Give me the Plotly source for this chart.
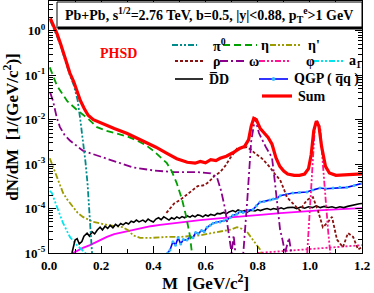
import plotly.graph_objects as go

# ---------------- data ----------------
sum_x = [0.005, 0.02, 0.031, 0.045, 0.054, 0.065, 0.08, 0.095, 0.11, 0.12, 0.135, 0.15, 0.17, 0.2,
         0.222, 0.25, 0.3, 0.34, 0.376, 0.41, 0.452, 0.49, 0.53, 0.56, 0.58, 0.60, 0.62, 0.64, 0.656,
         0.68, 0.705, 0.73, 0.75, 0.765, 0.775, 0.785, 0.795, 0.81, 0.825, 0.84, 0.855, 0.87, 0.885,
         0.9, 0.915, 0.94, 0.96, 0.98, 0.995, 1.005, 1.015, 1.025, 1.035, 1.045, 1.06, 1.075, 1.1,
         1.15, 1.2]
sum_y = [1.9, 1.26, 0.85, 0.5, 0.35, 0.2, 0.112, 0.071, 0.04, 0.027, 0.0178, 0.0126, 0.01, 0.0083,
         0.0074, 0.0063, 0.0049, 0.0038, 0.003, 0.0024, 0.00174, 0.00132, 0.0011, 0.00105, 0.00115,
         0.00107, 0.00126, 0.0012, 0.00135, 0.0015, 0.0018, 0.00224, 0.0025, 0.0035, 0.0071, 0.0107,
         0.01, 0.0063, 0.005, 0.004, 0.0028, 0.0014, 0.00089, 0.0007, 0.0006, 0.00056, 0.00056, 0.0006,
         0.00079, 0.0016, 0.0056, 0.0093, 0.0071, 0.0025, 0.00089, 0.00063, 0.00056, 0.00058, 0.0006]

pi0_x = [0.005, 0.02, 0.031, 0.045, 0.054, 0.065, 0.08, 0.095, 0.11, 0.12, 0.13, 0.14, 0.148, 0.155,
         0.16, 0.166]
pi0_y = [1.7, 1.1, 0.75, 0.45, 0.3, 0.18, 0.1, 0.06, 0.027, 0.01, 0.0034, 0.0011, 0.00035, 7e-5,
         2.5e-5, 8e-6]

eta_x = [0.003, 0.03, 0.07, 0.11, 0.15, 0.184, 0.22, 0.261, 0.3, 0.337, 0.37, 0.40, 0.43, 0.452,
         0.47, 0.49, 0.51, 0.525, 0.54, 0.55]
eta_y = [0.15, 0.059, 0.026, 0.016, 0.0105, 0.0068, 0.0056, 0.0049, 0.0042, 0.0034, 0.0027, 0.002,
         0.0014, 0.00105, 7e-4, 3.7e-4, 1.6e-4, 7e-5, 2.5e-5, 8e-6]

etap_x = [0.003, 0.015, 0.031, 0.054, 0.07, 0.092, 0.11, 0.13, 0.169, 0.222, 0.284, 0.305, 0.322,
          0.349, 0.399, 0.452, 0.502, 0.579, 0.656, 0.70, 0.721, 0.74, 0.759, 0.782, 0.809, 0.82]
etap_y = [1.35e-3, 9e-4, 5e-4, 2.24e-4, 1.6e-4, 1.07e-4, 8e-5, 6.5e-5, 5e-5, 4.3e-5, 3.8e-5, 3.2e-5,
          2.5e-5, 2.2e-5, 2.2e-5, 2.3e-5, 2.3e-5, 2.5e-5, 3e-5, 3.4e-5, 3.8e-5, 3.5e-5, 3e-5, 2e-5,
          1.2e-5, 8e-6]

rho_x = [0.45, 0.464, 0.48, 0.502, 0.52, 0.535, 0.552, 0.57, 0.59, 0.606, 0.62, 0.635, 0.656, 0.675,
         0.694, 0.71, 0.721, 0.74, 0.759, 0.775, 0.79, 0.816, 0.847, 0.866, 0.886, 0.9, 0.912, 0.935,
         0.962, 0.975, 0.989, 1.0, 1.012, 1.031, 1.05, 1.07, 1.085, 1.104, 1.127, 1.146, 1.166, 1.185,
         1.2]
rho_y = [8e-5, 1.02e-4, 1.3e-4, 1.55e-4, 1.9e-4, 2.2e-4, 2.6e-4, 3.2e-4, 3.3e-4, 3.7e-4, 4.4e-4,
         5.5e-4, 6.6e-4, 9e-4, 1.35e-3, 1.8e-3, 2.24e-3, 2.3e-3, 2.4e-3, 2.1e-3, 1.74e-3, 1.35e-3,
         8.5e-4, 6e-4, 4.4e-4, 2.8e-4, 1.8e-4, 1.3e-4, 9e-5, 1.2e-4, 1.55e-4, 1.7e-4, 1.8e-4, 9e-5,
         3.8e-5, 5e-5, 6.5e-5, 2e-5, 1.35e-5, 2.8e-5, 2.3e-5, 1.2e-5, 1.35e-5]

omega_x = [0.005, 0.015, 0.03, 0.042, 0.06, 0.08, 0.13, 0.22, 0.32, 0.40, 0.48, 0.57, 0.62, 0.645,
           0.66, 0.675, 0.69, 0.70, 0.708, 0.716, 0.73, 0.745, 0.76, 0.775, 0.79, 0.805, 0.83, 0.855,
           0.865, 0.875, 0.886, 0.895, 0.905, 0.92, 0.935]
omega_y = [0.04, 0.027, 0.011, 6.8e-3, 4.5e-3, 3.4e-3, 2.0e-3, 1.35e-3, 8.5e-4, 7.2e-4, 6.6e-4,
           6.6e-4, 6.2e-4, 4.8e-4, 2.5e-4, 1e-4, 2.8e-5, 1.0e-5, 2.5e-5, 8e-6, 5e-6, 1e-5, 1.5e-4,
           3.2e-3, 0.011, 5e-3, 2.5e-3, 1.4e-3, 4.5e-4, 1.5e-4, 3.3e-5, 2e-5, 1e-5, 2.2e-5, 6e-6]

phi_x = [0.99, 1.0, 1.01, 1.02, 1.03, 1.04, 1.05, 1.06, 1.07, 1.08]
phi_y = [1e-5, 1e-4, 1e-3, 7.9e-3, 8.9e-3, 6.3e-3, 1e-3, 1.6e-4, 3.2e-5, 8e-6]

phid_x = [0.8, 0.9, 1.0, 1.1, 1.2]
phid_y = [1.0e-5, 1.1e-5, 1.22e-5, 1.35e-5, 1.5e-5]

a1_x = [0.003, 0.011, 0.031, 0.054, 0.08, 0.107, 0.125, 0.14, 0.15]
a1_y = [2.5e-4, 2.24e-4, 1.07e-4, 4.7e-5, 2.3e-5, 1.5e-5, 1.2e-5, 1e-5, 8e-6]

dd_x = [0.088, 0.095, 0.100, 0.108, 0.116, 0.126, 0.134, 0.146, 0.155, 0.165, 0.175, 0.185, 0.196,
        0.205, 0.215, 0.225, 0.235, 0.245, 0.255, 0.265, 0.275, 0.284, 0.295, 0.305, 0.315, 0.325,
        0.335, 0.345, 0.36, 0.37, 0.38, 0.39, 0.40, 0.41, 0.42, 0.43, 0.44, 0.45, 0.46, 0.47, 0.48,
        0.49, 0.50, 0.51, 0.52, 0.53, 0.541, 0.55, 0.56, 0.57, 0.58, 0.59, 0.60, 0.61, 0.62, 0.635,
        0.645, 0.656, 0.67, 0.68, 0.69, 0.705, 0.715, 0.725, 0.74, 0.75, 0.76, 0.775, 0.79, 0.80,
        0.81, 0.825, 0.836, 0.85, 0.86, 0.875, 0.89, 0.90, 0.915, 0.935, 0.95, 0.965, 0.98, 0.995,
        1.01, 1.025, 1.04, 1.055, 1.07, 1.085, 1.1, 1.115, 1.13, 1.145, 1.16, 1.175, 1.19, 1.2]
dd_y = [1e-5, 1.6e-5, 1.95e-5, 2.1e-5, 1.6e-5, 1.8e-5, 2.4e-5, 2.8e-5, 2.4e-5, 3.0e-5, 2.7e-5,
        3.3e-5, 3.8e-5, 3.3e-5, 4.0e-5, 3.6e-5, 4.2e-5, 3.7e-5, 4.4e-5, 4.0e-5, 4.6e-5, 4.3e-5,
        4.8e-5, 4.5e-5, 5.2e-5, 4.9e-5, 5.5e-5, 5.0e-5, 5.5e-5, 5.0e-5, 5.8e-5, 5.3e-5, 5.0e-5,
        5.8e-5, 6.2e-5, 5.6e-5, 6.5e-5, 6.0e-5, 5.5e-5, 6.2e-5, 5.8e-5, 6.5e-5, 6.0e-5, 6.6e-5,
        6.2e-5, 6.8e-5, 6.4e-5, 7.0e-5, 6.5e-5, 7.2e-5, 7.0e-5, 6.5e-5, 7.2e-5, 6.8e-5, 7.4e-5,
        7.0e-5, 7.8e-5, 7.6e-5, 8.2e-5, 7.6e-5, 8.4e-5, 9.0e-5, 8.4e-5, 9.3e-5, 8.6e-5, 9.0e-5,
        8.3e-5, 9.2e-5, 8.8e-5, 9.5e-5, 9.0e-5, 9.6e-5, 1.0e-4, 9.4e-5, 1.0e-4, 9.6e-5, 1.04e-4,
        9.8e-5, 1.05e-4, 1.07e-4, 1.0e-4, 1.08e-4, 1.02e-4, 1.1e-4, 1.05e-4, 1.15e-4, 1.05e-4,
        1.12e-4, 1.06e-4, 1.1e-4, 1.03e-4, 1.1e-4, 1.05e-4, 1.12e-4, 1.18e-4, 1.2e-4, 1.28e-4, 1.3e-4]

smooth_x = [0.092, 0.11, 0.13, 0.157, 0.19, 0.222, 0.25, 0.284, 0.32, 0.349, 0.39, 0.426, 0.5,
            0.579, 0.65, 0.732, 0.81, 0.886, 0.95, 1.05, 1.12, 1.2]
smooth_y = [1e-5, 1.15e-5, 1.3e-5, 1.5e-5, 1.9e-5, 2.3e-5, 2.65e-5, 2.95e-5, 3.3e-5, 3.6e-5, 4.0e-5,
            4.3e-5, 4.9e-5, 5.5e-5, 6.0e-5, 6.5e-5, 7.2e-5, 7.9e-5, 8.5e-5, 9.2e-5, 9.7e-5, 1.02e-4]

qgp_x = [0.455, 0.464, 0.475, 0.485, 0.495, 0.505, 0.515, 0.529, 0.54, 0.552, 0.562, 0.572, 0.585,
         0.595, 0.606, 0.618, 0.629, 0.642, 0.656, 0.67, 0.682, 0.695, 0.705, 0.72, 0.732, 0.744,
         0.76, 0.782, 0.795, 0.809, 0.825, 0.847, 0.86, 0.874, 0.886, 0.91, 0.935, 0.96, 0.989, 1.01,
         1.039, 1.06, 1.089, 1.115, 1.142, 1.17, 1.2]
qgp_y = [1e-5, 1.17e-5, 1.8e-5, 1.5e-5, 2.2e-5, 1.6e-5, 2.0e-5, 1.95e-5, 2.3e-5, 2.2e-5, 2.9e-5,
         2.7e-5, 3.2e-5, 3.0e-5, 3.8e-5, 4.2e-5, 4.7e-5, 4.9e-5, 5.0e-5, 5.3e-5, 5.5e-5, 6.3e-5,
         7.1e-5, 7.4e-5, 8.5e-5, 8.2e-5, 9.0e-5, 9.5e-5, 1.15e-4, 1.4e-4, 1.45e-4, 1.55e-4, 1.65e-4,
         1.7e-4, 1.95e-4, 2.1e-4, 2.24e-4, 2.3e-4, 2.35e-4, 2.6e-4, 2.9e-4, 2.8e-4, 2.9e-4, 3.0e-4,
         3.0e-4, 3.3e-4, 3.7e-4]

ytick_vals = [1e-5, 1e-4, 1e-3, 1e-2, 1e-1, 1e0]
ytick_text = ["10<sup>-5</sup>", "10<sup>-4</sup>", "10<sup>-3</sup>", "10<sup>-2</sup>",
              "10<sup>-1</sup>", "10<sup>0</sup>"]
xtick_vals = [0.0, 0.2, 0.4, 0.6, 0.8, 1.0, 1.2]
xtick_text = ["0.0", "0.2", "0.4", "0.6", "0.8", "1.0", "1.2"]

# ---------------- styles ----------------
C_PI0 = "#008b8b"
C_ETA = "#00a000"
C_ETAP = "#9c9c00"
C_RHO = "#8b1010"
C_OMEGA = "#8b008b"
C_PHI = "#ff1493"
C_A1 = "#00e5ee"
C_DD = "#000000"
C_QGP = "#0000ff"
C_QGPM = "#33bbff"
C_SUM = "#ff0000"
C_MAG = "#ff00ff"

D_DDOT = "6px,2px,2px,2px,2px,2px"
D_DASH = "7px,4px"
D_SHORT = "3px,2px"
D_DDASH = "8px,3px,2px,3px"

FONT = "Liberation Serif, Times New Roman, serif"

fig = go.Figure()

def add(x, y, color, dash="solid", width=1.6, **kw):
    fig.add_trace(go.Scatter(x=x, y=y, mode=kw.pop("mode", "lines"),
                             line=dict(color=color, dash=dash, width=width),
                             showlegend=False, hoverinfo="skip", **kw))

add(smooth_x, smooth_y, C_MAG, width=1.8)
add(phid_x, phid_y, C_PHI, dash="2px,2px", width=1.8)
add(a1_x, a1_y, C_A1, D_DDOT, 1.8)
add(etap_x, etap_y, C_ETAP, D_DDOT, 1.8)
add(dd_x, dd_y, C_DD, "solid", 1.6)
add(qgp_x, qgp_y, C_QGP, "solid", 1.6, mode="lines+markers",
    marker=dict(color=C_QGPM, size=3))
add(rho_x, rho_y, C_RHO, D_SHORT, 1.8)
add(omega_x, omega_y, C_OMEGA, D_DDASH, 1.8)
add(phi_x, phi_y, C_PHI, D_DDOT, 1.8)
add(eta_x, eta_y, C_ETA, D_DASH, 1.8)
add(pi0_x, pi0_y, C_PI0, D_DDOT, 1.8)
add(sum_x, sum_y, C_SUM, "solid", 3.2)

# ---------------- layout ----------------
L, R, T, B = 49, 12, 1, 40
W, H = 374, 293
PW, PH = W - L - R, H - T - B

def px(xp):
    return (xp - L) / PW

def py(yp):
    return (T + PH - yp) / PH

axis_common = dict(showline=True, linecolor="black", linewidth=1.2, mirror="allticks",
                   ticks="inside", tickcolor="black", showgrid=False, zeroline=False,
                   automargin=False,
                   tickfont=dict(family=FONT, size=13, color="black", weight="bold"))

fig.update_layout(
    width=W, height=H, margin=dict(l=L, r=R, t=T, b=B, autoexpand=False),
    paper_bgcolor="white", plot_bgcolor="white",
    xaxis=dict(range=[0, 1.2], tickvals=xtick_vals, ticktext=xtick_text, ticklen=7,
               minor=dict(ticks="inside", dtick=0.1, ticklen=4, tickcolor="black"),
               title=dict(text="<b>M  [GeV/c<sup>2</sup>]</b>",
                          font=dict(family=FONT, size=17, color="black"), standoff=2),
               **axis_common),
    yaxis=dict(type="log", range=[-5, 0.67], tickvals=ytick_vals, ticktext=ytick_text, ticklen=7,
               minor=dict(ticks="inside", dtick="D1", ticklen=4, tickcolor="black"),
               title=dict(text="<b>dN/dM  [1/(GeV/c<sup>2</sup>)]</b>",
                          font=dict(family=FONT, size=17, color="black"), standoff=2),
               **axis_common),
)

shapes = []
ann = []

# header box
shapes.append(dict(type="rect", xref="paper", yref="paper", x0=px(57), x1=px(362), y0=py(28), y1=py(2),
                   line=dict(color="black", width=1), fillcolor="white", layer="above"))
shapes.append(dict(type="line", xref="paper", yref="paper", x0=px(58), x1=px(362), y0=py(28), y1=py(28),
                   line=dict(color="black", width=3), layer="above"))
ann.append(dict(xref="paper", yref="paper", x=px(209), y=py(15), xanchor="center", yanchor="middle",
                showarrow=False,
                text="<b>Pb+Pb, s<sup>1/2</sup>=2.76 TeV, b=0.5, |y|<0.88, p<sub>T</sub><sup>e</sup>>1 GeV</b>",
                font=dict(family=FONT, size=14, color="black")))

ann.append(dict(xref="paper", yref="paper", x=px(118), y=py(53), xanchor="center", yanchor="middle",
                showarrow=False, text="<b>PHSD</b>", font=dict(family=FONT, size=14, color=C_SUM)))

legend_items = [
    # (x0, x1, y, color, dash, width, label, label_x)
    (172, 197, 45, C_PI0, D_DDOT, 1.8, "π<sup>0</sup>", 211),
    (223, 257, 45, C_ETA, D_DASH, 1.8, "η", 259),
    (270, 300, 45, C_ETAP, D_DDOT, 1.8, "η'", 306),
    (175, 203, 61, C_RHO, D_SHORT, 1.8, "ρ", 211),
    (220, 246, 61, C_OMEGA, D_DDASH, 1.8, "ω", 247),
    (259, 290, 61, C_PHI, D_DDOT, 1.8, "φ", 304),
    (313, 343, 61, C_A1, D_DDOT, 1.8, "a<sub>1</sub>", 347),
    (175, 203, 79, C_DD, "solid", 1.6, "D\u0305D", 207),
    (259, 288, 79, C_QGP, "solid", 1.6, "QGP ( q\u0305q )", 292),
    (262, 292, 96, C_SUM, "solid", 3.2, "Sum", 296),
]
for x0, x1, yy, col, dash, wd, lab, lx in legend_items:
    shapes.append(dict(type="line", xref="paper", yref="paper", x0=px(x0), x1=px(x1), y0=py(yy), y1=py(yy),
                       line=dict(color=col, dash=dash, width=wd)))
    ann.append(dict(xref="paper", yref="paper", x=px(lx), y=py(yy), xanchor="left", yanchor="middle",
                    showarrow=False, text="<b>" + lab + "</b>",
                    font=dict(family=FONT, size=14, color="black")))
# QGP legend marker
shapes.append(dict(type="circle", xref="paper", yref="paper", x0=px(272), x1=px(275), y0=py(80.5), y1=py(77.5),
                   line=dict(color=C_QGPM, width=1), fillcolor=C_QGPM))

fig.update_layout(shapes=shapes, annotations=ann)
fig.write_html("out.html", config={"displayModeBar": False, "staticPlot": True},
               post_script="document.body.style.margin='0px';")
